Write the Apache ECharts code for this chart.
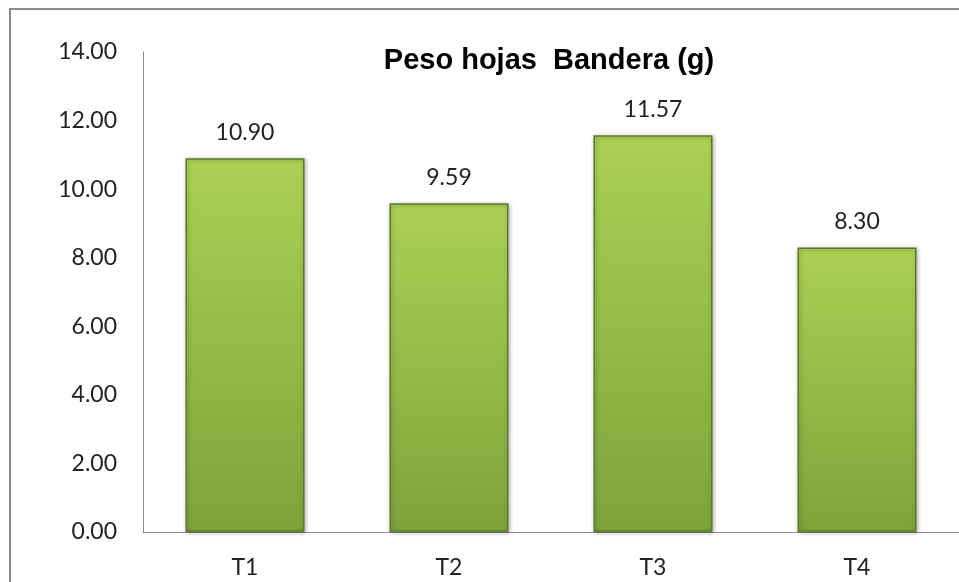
<!DOCTYPE html>
<html>
<head>
<meta charset="utf-8">
<script src="https://cdn.jsdelivr.net/npm/echarts@6/dist/echarts.min.js"></script>
<style>
html,body{margin:0;padding:0;background:#fff;}
#c{width:959px;height:582px;}
</style>
</head>
<body>
<div id="c"></div>
<script>
const title = 'Peso hojas  Bandera (g)';
const categories = ['T1', 'T2', 'T3', 'T4'];
const values = [10.90, 9.59, 11.57, 8.30];
const yMin = 0, yMax = 14, yStep = 2;

const chart = echarts.init(document.getElementById('c'), null, {renderer: 'canvas'});
const labelFont = 'Lato, "Open Sans", sans-serif';
chart.setOption({
  animation: false,
  backgroundColor: '#ffffff',
  title: {
    text: title,
    left: 544, top: 41, textAlign: 'center',
    textStyle: {fontFamily: '"Liberation Sans", Arial, sans-serif', fontWeight: 'bold', fontSize: 29, color: '#000'}
  },
  graphic: [{
    type: 'rect', silent: true,
    shape: {x: 10, y: 9, width: 1000, height: 1000},
    style: {fill: 'none', stroke: '#8a8a8a', lineWidth: 2}
  }],
  grid: {left: 143, right: -12, top: 52, bottom: 50, containLabel: false},
  xAxis: {
    type: 'category', data: categories,
    axisLine: {lineStyle: {color: '#8c8c8c', width: 1}},
    axisTick: {show: false},
    axisLabel: {fontFamily: labelFont, fontSize: 23, color: '#222', margin: 24}
  },
  yAxis: {
    type: 'value', min: yMin, max: yMax, interval: yStep,
    axisLine: {show: true, lineStyle: {color: '#8c8c8c', width: 1}},
    axisTick: {show: false},
    splitLine: {show: false},
    axisLabel: {fontFamily: labelFont, fontSize: 23, color: '#222', margin: 26,
      formatter: v => v.toFixed(2)}
  },
  series: [{
    type: 'bar', data: values, barWidth: 119,
    itemStyle: {
      color: new echarts.graphic.LinearGradient(0, 0, 0, 1, [
        {offset: 0, color: '#aad154'},
        {offset: 1, color: '#7ea33b'}
      ]),
      borderColor: '#5d7a2a', borderWidth: 1.5,
      shadowColor: 'rgba(0,0,0,0.3)', shadowBlur: 4, shadowOffsetX: 1, shadowOffsetY: 1
    },
    label: {show: true, position: 'top', distance: 14,
      fontFamily: labelFont, fontSize: 23, color: '#222',
      formatter: p => p.value.toFixed(2)}
  }]
});
</script>
</body>
</html>
